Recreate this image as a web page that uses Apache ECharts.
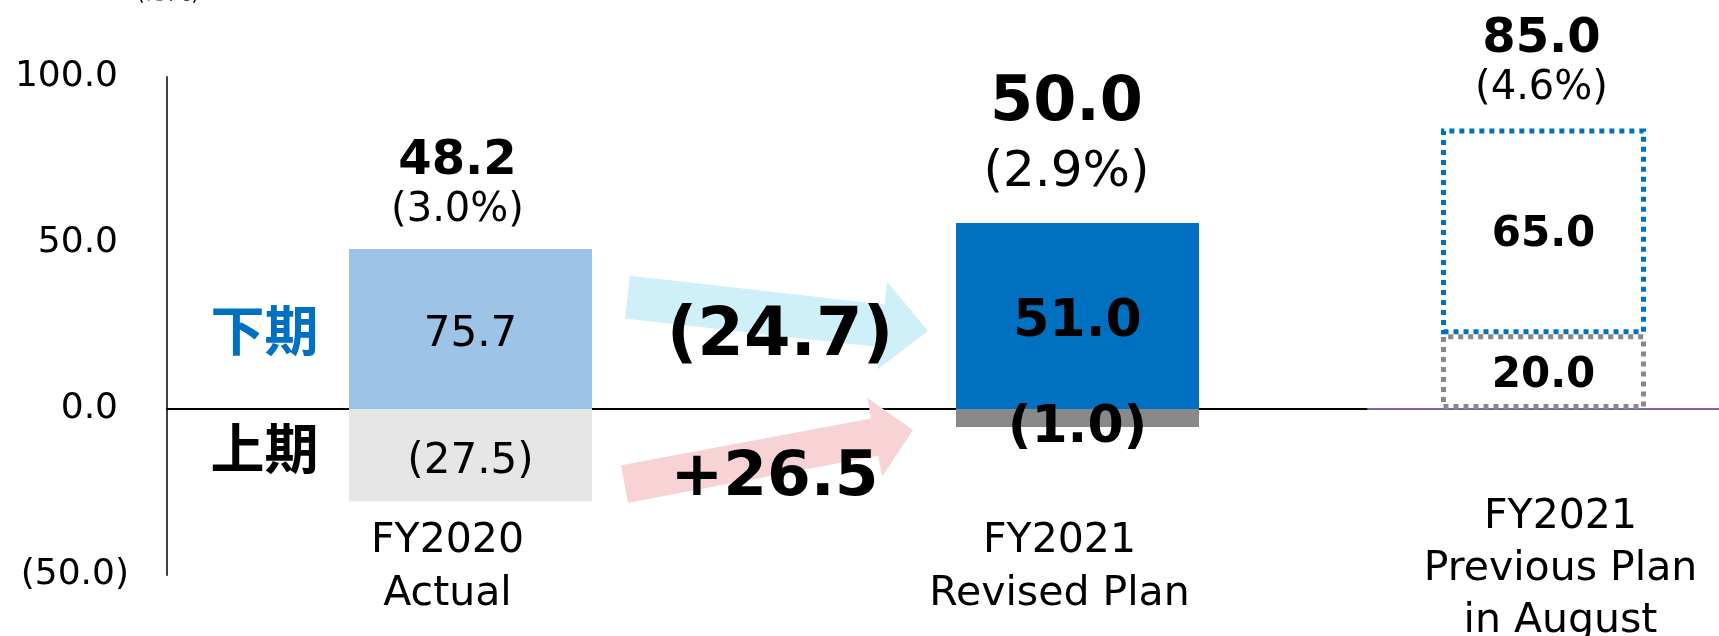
<!DOCTYPE html>
<html><head><meta charset="utf-8">
<script src="https://cdn.jsdelivr.net/npm/echarts@6/dist/echarts.min.js"></script>
<style>html,body{margin:0;padding:0;background:#fff}#c{width:1719px;height:636px}</style>
</head><body><div id="c"></div>
<script>
// ---- data ----
const categories = ['FY2020\nActual', 'FY2021\nRevised Plan'];
const prevCategory = ['FY2021\nPrevious Plan\nin August'];
const firstHalf = [-27.8, -5.4];            // 上期 drawn heights
const secondHalf = [48.2, 56.0];            // 下期 drawn heights
const firstHalfLabels = ['(27.5)', '(1.0)'];
const secondHalfLabels = ['75.7', '51.0'];
const totalLabels = ['48.2', '50.0'];
const marginLabels = ['(3.0%)', '(2.9%)'];
const prevFirst = [22.5];
const prevSecond = [62.0];
const prevFirstLabels = ['20.0'];
const prevSecondLabels = ['65.0'];
const prevTotalLabels = ['85.0'];
const prevMarginLabels = ['(4.6%)'];
const yMin = -50, yMax = 100, yStep = 50;
const bridgeDownLabel = '(24.7)';
const bridgeUpLabel = '+26.5';
const halfNames = ['下期', '上期'];
const unitLabel = '(億円)';

// ---- styling ----
const FONT = '"DejaVu Sans", Verdana, sans-serif';
const CJK = '"Noto Sans CJK JP", sans-serif';
const lightBlue = '#9DC3E6', lightGray = '#E7E6E6', darkBlue = '#0070C0', darkGray = '#898989';

const chart = echarts.init(document.getElementById('c'), null, {renderer: 'canvas'});

const yFmt = v => v < 0 ? '(' + Math.abs(v).toFixed(1) + ')' : '{p|' + v.toFixed(1) + '}';

const catPad = [[0, 46, 0, 0], [0, 36, 0, 0]];
const catRich = {};
catPad.forEach((p, i) => { catRich['c' + i] = {fontSize: 41, lineHeight: 53, fontFamily: FONT, color: '#000', padding: p}; });

const option = {
  animation: false,
  backgroundColor: '#fff',
  grid: [
    {left: 167, right: 338, top: 77, bottom: 61, containLabel: false, outerBoundsMode: 'none'},
    {left: 1368, right: 0, top: 77, bottom: 61, containLabel: false, outerBoundsMode: 'none'}
  ],
  xAxis: [
    {type: 'category', gridIndex: 0, data: categories,
     axisLine: {onZero: true, lineStyle: {color: '#000', width: 2}},
     axisTick: {show: false},
     axisLabel: {interval: 0, margin: -60.5,
       formatter: (v, i) => v.split('\n').map(l => '{c' + i + '|' + l + '}').join('\n'),
       rich: catRich}},
    {type: 'category', gridIndex: 1, data: prevCategory,
     axisLine: {onZero: true, lineStyle: {color: '#7F64A0', width: 2}},
     axisTick: {show: false},
     axisLabel: {interval: 0, margin: -84,
       formatter: v => v.split('\n').map(l => '{q|' + l + '}').join('\n'),
       rich: {q: {fontSize: 41, lineHeight: 52, fontFamily: FONT, color: '#000', padding: [0, 0, 0, 34]}}}}
  ],
  yAxis: [
    {type: 'value', gridIndex: 0, min: yMin, max: yMax, interval: yStep,
     axisLine: {show: true, lineStyle: {color: '#404040', width: 2}},
     axisTick: {show: false}, splitLine: {show: false},
     axisLabel: {margin: 38, fontSize: 36, fontFamily: FONT, color: '#000', formatter: yFmt,
       rich: {p: {fontSize: 36, fontFamily: FONT, color: '#000', padding: [0, 11, 0, 0]}}}},
    {type: 'value', gridIndex: 1, min: yMin, max: yMax, interval: yStep, show: false}
  ],
  series: [
    {name: '上期', type: 'bar', xAxisIndex: 0, yAxisIndex: 0, stack: 'a', barWidth: 243,
     label: {show: true, position: 'inside', fontFamily: FONT, color: '#000'},
     data: firstHalf.map((v, i) => ({value: v,
       itemStyle: {color: i === 0 ? lightGray : darkGray},
       label: {formatter: firstHalfLabels[i], fontSize: i === 0 ? 42 : 52, fontWeight: i === 0 ? 'normal' : 'bold', offset: i === 0 ? [0, 7] : [0, 11]}}))},
    {name: '下期', type: 'bar', xAxisIndex: 0, yAxisIndex: 0, stack: 'a', barWidth: 243,
     label: {show: true, position: 'inside', fontFamily: FONT, color: '#000'},
     data: secondHalf.map((v, i) => ({value: v,
       itemStyle: {color: i === 0 ? lightBlue : darkBlue},
       label: {formatter: secondHalfLabels[i], fontSize: i === 0 ? 42 : 52, fontWeight: i === 0 ? 'normal' : 'bold', offset: [0, 6]}}))},
    {name: 'total', type: 'scatter', xAxisIndex: 0, yAxisIndex: 0, symbolSize: 1,
     itemStyle: {color: 'rgba(0,0,0,0)', opacity: 1},
     label: {show: true, position: 'top', color: '#000', fontFamily: FONT},
     data: totalLabels.map((t, i) => {
       const big = i === 1;
       return {value: [i, secondHalf[i]],
         label: {distance: big ? 15 : 14, offset: big ? [-11, 0] : [-13, 0],
           formatter: '{t|' + t + '}\n{m|' + marginLabels[i] + '}',
           rich: {t: {fontSize: big ? 62 : 48, fontWeight: 'bold', lineHeight: big ? 68 : 50, fontFamily: FONT, color: '#000'},
                  m: {fontSize: big ? 50 : 40, lineHeight: big ? 70 : 48, fontFamily: FONT, color: '#000'}}}};
     })},
    {name: '上期(前回)', type: 'bar', xAxisIndex: 1, yAxisIndex: 1, stack: 'p', barWidth: 205,
     itemStyle: {color: '#fff', borderColor: darkGray, borderWidth: 5, borderType: 'dotted'},
     label: {show: true, position: 'inside', fontFamily: FONT, color: '#000', fontWeight: 'bold', fontSize: 42, offset: [0, 4]},
     data: prevFirst.map((v, i) => ({value: v, label: {formatter: prevFirstLabels[i]}}))},
    {name: '下期(前回)', type: 'bar', xAxisIndex: 1, yAxisIndex: 1, stack: 'p', barWidth: 205,
     itemStyle: {color: '#fff', borderColor: darkBlue, borderWidth: 5, borderType: 'dotted'},
     label: {show: true, position: 'inside', fontFamily: FONT, color: '#000', fontWeight: 'bold', fontSize: 42, offset: [0, 4]},
     data: prevSecond.map((v, i) => ({value: v, label: {formatter: prevSecondLabels[i]}}))},
    {name: 'total(前回)', type: 'scatter', xAxisIndex: 1, yAxisIndex: 1, symbolSize: 1,
     itemStyle: {color: 'rgba(0,0,0,0)', opacity: 1},
     label: {show: true, position: 'top', distance: 15, offset: [-2, 0], color: '#000', fontFamily: FONT,
       rich: {t: {fontSize: 48, fontWeight: 'bold', lineHeight: 50, fontFamily: FONT, color: '#000'},
              m: {fontSize: 40, lineHeight: 48, fontFamily: FONT, color: '#000'}}},
     data: prevTotalLabels.map((t, i) => ({value: [i, prevFirst[i] + prevSecond[i]],
       label: {formatter: '{t|' + t + '}\n{m|' + prevMarginLabels[i] + '}'}}))}
  ]
};
chart.setOption(option);

// ---- annotations anchored to the axes ----
const px = (cat, val) => chart.convertToPixel({xAxisIndex: 0, yAxisIndex: 0}, [cat, val]);
const c0 = px(0, 0), c1 = px(1, 0);
const halfBar = 243 / 2;
const mid = (c0[0] + c1[0]) / 2;
const yv = v => px(0, v)[1];

function arrow(T, H, s, h, L, color) {
  const dx = H[0] - T[0], dy = H[1] - T[1], len = Math.hypot(dx, dy);
  const u = [dx / len, dy / len], n = [-u[1], u[0]];
  const B = [H[0] - u[0] * L, H[1] - u[1] * L];
  const p = (P, k) => [P[0] + n[0] * k, P[1] + n[1] * k];
  return {type: 'polygon', z: 1, silent: true,
    shape: {points: [p(T, -s), p(B, -s), p(B, -h), H, p(B, h), p(B, s), p(T, s)]},
    style: {fill: color}};
}
function label(text, x, y, size, color, family) {
  return {type: 'text', z: 5, silent: true, x: x, y: y,
    style: {text: text, fontSize: size, fontWeight: 'bold', fontFamily: family || FONT, fill: color || '#000',
      align: 'center', verticalAlign: 'middle'}};
}

chart.setOption({graphic: [
  arrow([c0[0] + halfBar + 35.5, yv(33.7)], [c1[0] - halfBar - 28, yv(23.5)], 21.5, 44, 46, '#CFEFF9'),
  arrow([c0[0] + halfBar + 32.5, yv(-22.6)], [c1[0] - halfBar - 43, yv(-6.3)], 19, 40, 39, '#F8D3D6'),
  label(bridgeDownLabel, mid + 6, yv(21.6), 67),
  label(bridgeUpLabel, mid + 0.5, yv(-21.0), 63),
  label(halfNames[0], c0[0] - 206, yv(23.5), 54, darkBlue, CJK),
  label(halfNames[1], c0[0] - 206, yv(-12.0), 54, '#000', CJK),
  {type: 'text', z: 5, silent: true, x: 168, y: 1,
   style: {text: unitLabel, fontSize: 24, fontFamily: CJK, fill: '#000', align: 'center', verticalAlign: 'bottom'}}
]});
</script>
</body></html>
